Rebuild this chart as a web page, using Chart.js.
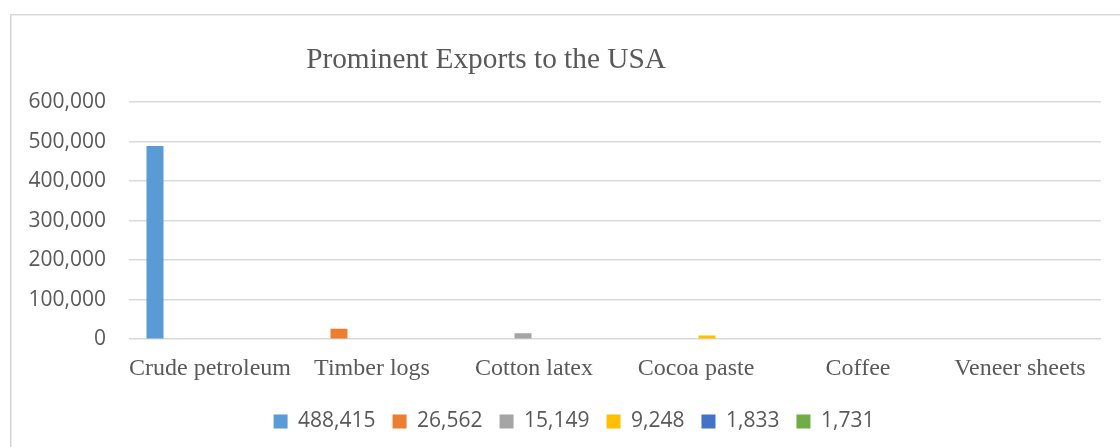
<!DOCTYPE html>
<html>
<head>
<meta charset="utf-8">
<script src="https://cdn.jsdelivr.net/npm/chart.js@4.4.0/dist/chart.umd.min.js"></script>
<style>
  html, body { margin: 0; padding: 0; background: #ffffff; }
  #wrap { width: 1120px; height: 447px; position: relative; }
</style>
</head>
<body>
<div id="wrap"><canvas id="c" width="1120" height="447"></canvas></div>
<script>
const chartTitle = 'Prominent Exports to the USA';
const categories = ['Crude petroleum', 'Timber logs', 'Cotton latex', 'Cocoa paste', 'Coffee', 'Veneer sheets'];
const seriesLabels = ['488,415', '26,562', '15,149', '9,248', '1,833', '1,731'];
const seriesValues = [488415, 26562, 15149, 9248, 1833, 1731];
const seriesColors = ['#5B9BD5', '#ED7D31', '#A5A5A5', '#FFC000', '#4472C4', '#70AD47'];
const yTicks = [0, 100000, 200000, 300000, 400000, 500000, 600000];

const datasets = seriesLabels.map((lab, i) => ({
  label: lab,
  data: categories.map((_, j) => (j === i ? seriesValues[i] : null)),
  backgroundColor: seriesColors[i],
  borderWidth: 0,
  categoryPercentage: 0.815,
  barPercentage: 0.773
}));

const framePlugin = {
  id: 'frame',
  beforeDraw(chart) {
    const ctx = chart.ctx;
    ctx.save();
    ctx.fillStyle = '#ffffff';
    ctx.fillRect(0, 0, chart.width, chart.height);
    ctx.strokeStyle = '#d9d9d9';
    ctx.lineWidth = 1.5;
    ctx.strokeRect(10.75, 14.75, 1300, 600);
    ctx.restore();
    // shift legend block to be centred under the (wider, cropped) chart frame
    const lg = chart.legend;
    if (lg) {
      const dx = 574 - (lg.left + lg.right) / 2;
      lg.left += dx; lg.right += dx;
      const dy = 418 - (lg.top + lg.bottom) / 2;
      lg.top += dy; lg.bottom += dy;
    }
  },
  afterDraw(chart) {
    const ctx = chart.ctx;
    ctx.save();
    ctx.fillStyle = '#595959';
    ctx.font = '29.3px "Liberation Serif", "Times New Roman", serif';
    ctx.textAlign = 'center';
    ctx.textBaseline = 'alphabetic';
    ctx.fillText(chartTitle, 486, 68);
    ctx.restore();
  }
};

new Chart(document.getElementById('c'), {
  type: 'bar',
  data: { labels: categories, datasets: datasets },
  plugins: [framePlugin],
  options: {
    responsive: false,
    animation: false,
    maintainAspectRatio: false,
    layout: { padding: { left: 20, right: 19, top: 102, bottom: 1 } },
    plugins: {
      title: { display: false },
      tooltip: { enabled: false },
      legend: {
        display: true,
        position: 'bottom',
        align: 'center',
        labels: {
          boxWidth: 14,
          boxHeight: 14,
          padding: 17,
          color: '#595959',
          font: { family: '"Open Sans", sans-serif', size: 21 }
        }
      }
    },
    scales: {
      x: {
        grid: { display: false, drawTicks: false },
        border: { display: false },
        ticks: {
          color: '#595959',
          padding: 15,
          maxRotation: 0,
          autoSkip: false,
          font: { family: '"Liberation Serif", "Times New Roman", serif', size: 24 }
        }
      },
      y: {
        min: 0,
        max: 600000,
        afterFit(scale) { scale.width = 109; },
        afterBuildTicks(scale) { scale.ticks = yTicks.map(v => ({ value: v })); },
        grid: { color: '#d9d9d9', lineWidth: 1.5, drawTicks: false },
        border: { display: false },
        ticks: {
          color: '#595959',
          padding: 23,
          font: { family: '"Open Sans", sans-serif', size: 21 },
          callback: (v) => Number(v).toLocaleString('en-US')
        }
      }
    }
  }
});
</script>
</body>
</html>
